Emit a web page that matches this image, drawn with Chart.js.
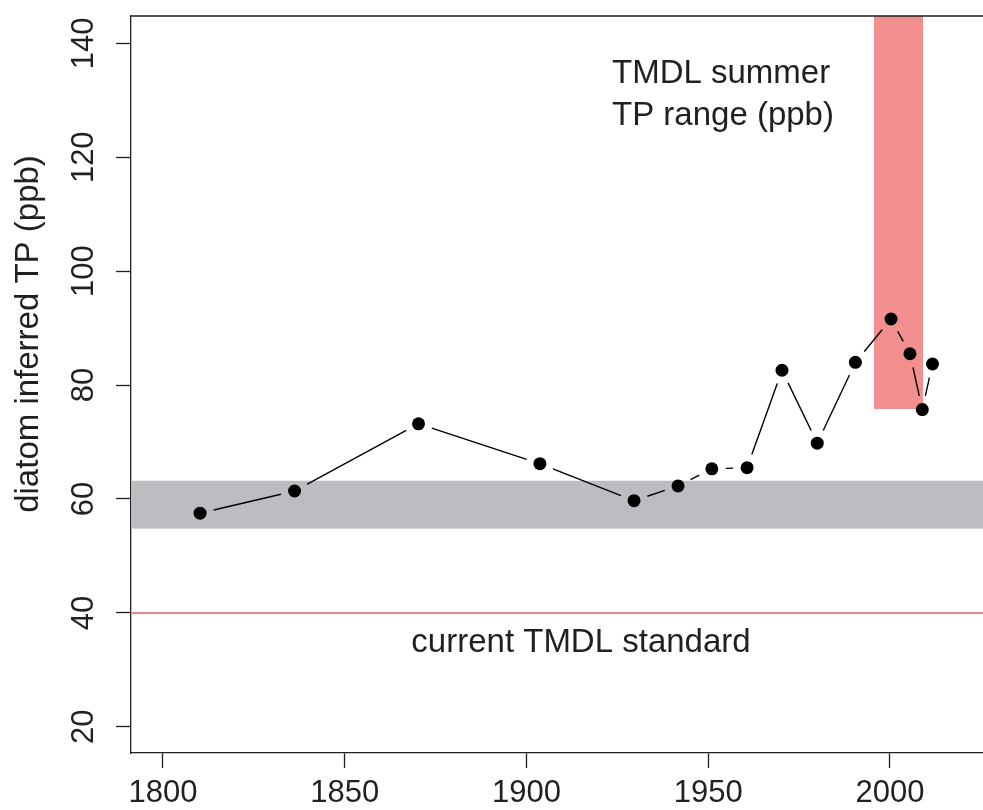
<!DOCTYPE html>
<html>
<head>
<meta charset="utf-8">
<script src="https://cdn.jsdelivr.net/npm/chart.js@4.4.1/dist/chart.umd.min.js"></script>
<style>
    html, body { margin: 0; padding: 0; background: #fff; overflow: hidden; }
    #wrap { width: 983px; height: 810px; position: relative; }
</style>
</head>
<body>
<div id="wrap"><canvas id="tpChart"></canvas></div>
<script>
// core dates and diatom inferred TP
const years = [1810.2, 1836.2, 1870.3, 1903.7, 1929.6, 1941.7, 1951.0, 1960.7, 1970.3, 1980.0, 1990.5, 2000.3, 2005.5, 2008.9, 2011.7];
const tpValues = [57.5, 61.4, 73.2, 66.2, 59.7, 62.3, 65.3, 65.5, 82.6, 69.8, 84.0, 91.6, 85.5, 75.7, 83.7];

const xTicks = [1800, 1850, 1900, 1950, 2000];
const yTicks = [20, 40, 60, 80, 100, 120, 140];

const currentStandard = 40;
const historicBand = [54.8, 63.2];     // grey band, ppb
const summerYears = [1995.6, 2009.1];  // TMDL summer range, x extent
const summerTP = [75.8, 150];          // TMDL summer range, ppb

const ink = '#231F20';
const fontFamily = '"Liberation Sans", Arial, sans-serif';

const overlays = {
    id: 'overlays',
    beforeDatasetsDraw(chart) {
        const { ctx, chartArea: a, scales: { x, y } } = chart;
        ctx.save();
        ctx.beginPath();
        ctx.rect(a.left, a.top, a.right - a.left, a.bottom - a.top);
        ctx.clip();

        // grey band
        const g1 = y.getPixelForValue(historicBand[1]);
        const g0 = y.getPixelForValue(historicBand[0]);
        ctx.fillStyle = '#BCBDC0';
        ctx.fillRect(a.left, g1, a.right - a.left, g0 - g1);

        // TMDL summer range
        const rx0 = x.getPixelForValue(summerYears[0]);
        const rx1 = x.getPixelForValue(summerYears[1]);
        const ry1 = y.getPixelForValue(summerTP[1]);
        const ry0 = y.getPixelForValue(summerTP[0]);
        ctx.fillStyle = '#F48F8F';
        ctx.fillRect(rx0, ry1, rx1 - rx0, ry0 - ry1);

        // current standard
        const sy = y.getPixelForValue(currentStandard);
        ctx.strokeStyle = '#EE5A5F';
        ctx.lineWidth = 1.5;
        ctx.beginPath();
        ctx.moveTo(a.left, sy);
        ctx.lineTo(a.right, sy);
        ctx.stroke();

        // connecting lines with gaps round the points (R type "b")
        const pts = chart.getDatasetMeta(0).data;
        const gap = 14;
        ctx.strokeStyle = '#000';
        ctx.lineWidth = 1.4;
        for (let i = 1; i < pts.length; i++) {
            const p0 = pts[i - 1], p1 = pts[i];
            const dx = p1.x - p0.x, dy = p1.y - p0.y;
            const len = Math.hypot(dx, dy);
            if (len <= 2 * gap) continue;
            const ux = dx / len, uy = dy / len;
            ctx.beginPath();
            ctx.moveTo(p0.x + ux * gap, p0.y + uy * gap);
            ctx.lineTo(p1.x - ux * gap, p1.y - uy * gap);
            ctx.stroke();
        }
        ctx.restore();
    },
    afterDraw(chart) {
        const { ctx, chartArea: a } = chart;
        ctx.save();
        // top frame
        ctx.strokeStyle = ink;
        ctx.lineWidth = 1.3;
        ctx.beginPath();
        ctx.moveTo(a.left, a.top);
        ctx.lineTo(a.right, a.top);
        ctx.stroke();

        ctx.fillStyle = ink;
        ctx.font = '33px ' + fontFamily;
        ctx.textBaseline = 'alphabetic';
        ctx.textAlign = 'left';
        ctx.fillText('TMDL summer', 612, 83);
        ctx.fillText('TP range (ppb)', 612, 125);
        ctx.textAlign = 'center';
        ctx.fillText('current TMDL standard', 581, 652);

        // y axis title
        ctx.translate(38, 334);
        ctx.rotate(-Math.PI / 2);
        ctx.fillText('diatom inferred TP (ppb)', 0, 0);
        ctx.restore();
    }
};

const ctx = document.getElementById('tpChart').getContext('2d');
new Chart(ctx, {
    type: 'scatter',
    data: {
        datasets: [{
            label: 'diatom inferred TP',
            data: years.map((yr, i) => ({ x: yr, y: tpValues[i] })),
            pointRadius: 6.5,
            pointHoverRadius: 6.5,
            pointBackgroundColor: '#000',
            pointBorderWidth: 0,
            showLine: false
        }]
    },
    options: {
        responsive: true,
        maintainAspectRatio: false,
        animation: false,
        events: [],
        layout: { autoPadding: false, padding: { top: 16, right: 0, bottom: 0, left: 0 } },
        plugins: {
            legend: { display: false },
            tooltip: { enabled: false }
        },
        scales: {
            x: {
                type: 'linear',
                min: 1791.2,
                max: 2025.6,
                afterBuildTicks: s => { s.ticks = xTicks.map(v => ({ value: v })); },
                afterFit: s => { s.height = 57; s.paddingLeft = 0; s.paddingRight = 0; },
                grid: { display: true, drawOnChartArea: false, drawTicks: true, tickLength: 15, tickWidth: 1.3, tickColor: ink },
                border: { display: true, color: ink, width: 1.3 },
                ticks: {
                    color: ink,
                    font: { family: fontFamily, size: 31 },
                    padding: 7,
                    maxRotation: 0,
                    autoSkip: false,
                    callback: v => String(v)
                }
            },
            y: {
                min: 15.4,
                max: 144.8,
                afterBuildTicks: s => { s.ticks = yTicks.map(v => ({ value: v })); },
                afterFit: s => { s.width = 131; s.paddingTop = 0; s.paddingBottom = 0; },
                grid: { display: true, drawOnChartArea: false, drawTicks: true, tickLength: 15, tickWidth: 1.3, tickColor: ink },
                border: { display: true, color: ink, width: 1.3 },
                ticks: {
                    color: ink,
                    font: { family: fontFamily, size: 31 },
                    padding: 6,
                    minRotation: 90,
                    maxRotation: 90,
                    crossAlign: 'center',
                    autoSkip: false,
                    callback: v => String(v)
                }
            }
        }
    },
    plugins: [overlays]
});
</script>
</body>
</html>
